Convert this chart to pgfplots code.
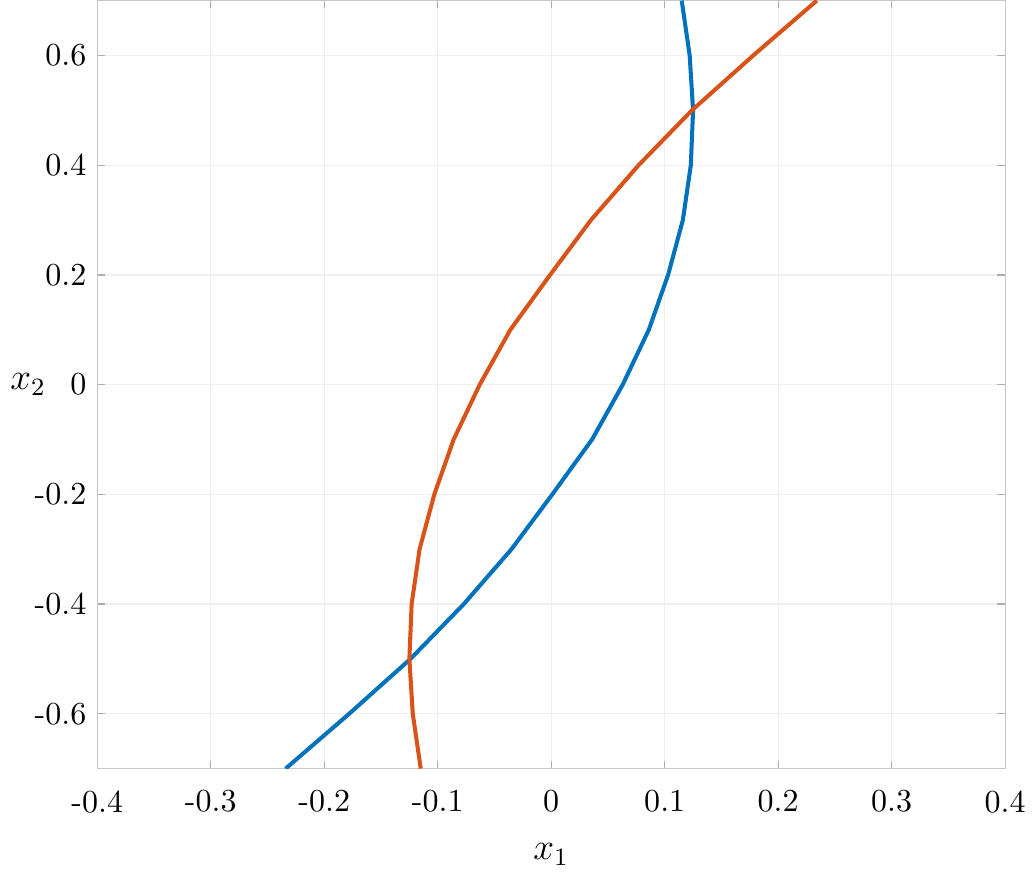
\documentclass[border=0pt]{standalone}
\usepackage{pgfplots}
\pgfplotsset{compat=1.18}
\definecolor{mblue}{rgb}{0,0.447,0.741}
\definecolor{mred}{rgb}{0.85,0.325,0.098}
\begin{document}
\begin{tikzpicture}
\begin{axis}[
  width=292pt, height=247pt, scale only axis,
  xmin=-0.4, xmax=0.4, ymin=-0.7, ymax=0.7,
  xtick={-0.4,-0.3,-0.2,-0.1,0,0.1,0.2,0.3,0.4},
  xticklabels={-0.4,-0.3,-0.2,-0.1,0,0.1,0.2,0.3,0.4},
  ytick={-0.6,-0.4,-0.2,0,0.2,0.4,0.6},
  yticklabels={-0.6,-0.4,-0.2,0,0.2,0.4,0.6},
  tick label style={font=\fontsize{10.3}{12.5}\selectfont},
  label style={font=\fontsize{11.5}{14}\selectfont},
  tick align=inside, major tick length=2.5pt,
  axis line style={draw=black!22},
  every tick/.style={draw=black!32},
  grid=major, major grid style={draw=black!6, line width=0.4pt},
  xticklabel style={yshift=-3.5pt},
  xlabel={$x_1$}, ylabel={$x_2$},
  xlabel style={yshift=-3pt},
  every axis y label/.style={at={(axis description cs:0,0.5)}, anchor=east, xshift=-13pt, font=\fontsize{11.5}{14}\selectfont},
]
\addplot[mblue, line width=1.3pt] coordinates {
(-0.234,-0.7) (-0.178,-0.6) (-0.124,-0.5) (-0.077,-0.4) (-0.035,-0.3) (0.001,-0.2) (0.036,-0.1) (0.063,0) (0.086,0.1) (0.103,0.2) (0.116,0.3) (0.123,0.4) (0.125,0.5) (0.122,0.6) (0.115,0.7)};
\addplot[mred, line width=1.3pt] coordinates {
(-0.115,-0.7) (-0.122,-0.6) (-0.125,-0.5) (-0.123,-0.4) (-0.116,-0.3) (-0.103,-0.2) (-0.086,-0.1) (-0.063,0) (-0.036,0.1) (-0.001,0.2) (0.035,0.3) (0.077,0.4) (0.124,0.5) (0.178,0.6) (0.234,0.7)};
\end{axis}
\end{tikzpicture}
\end{document}
